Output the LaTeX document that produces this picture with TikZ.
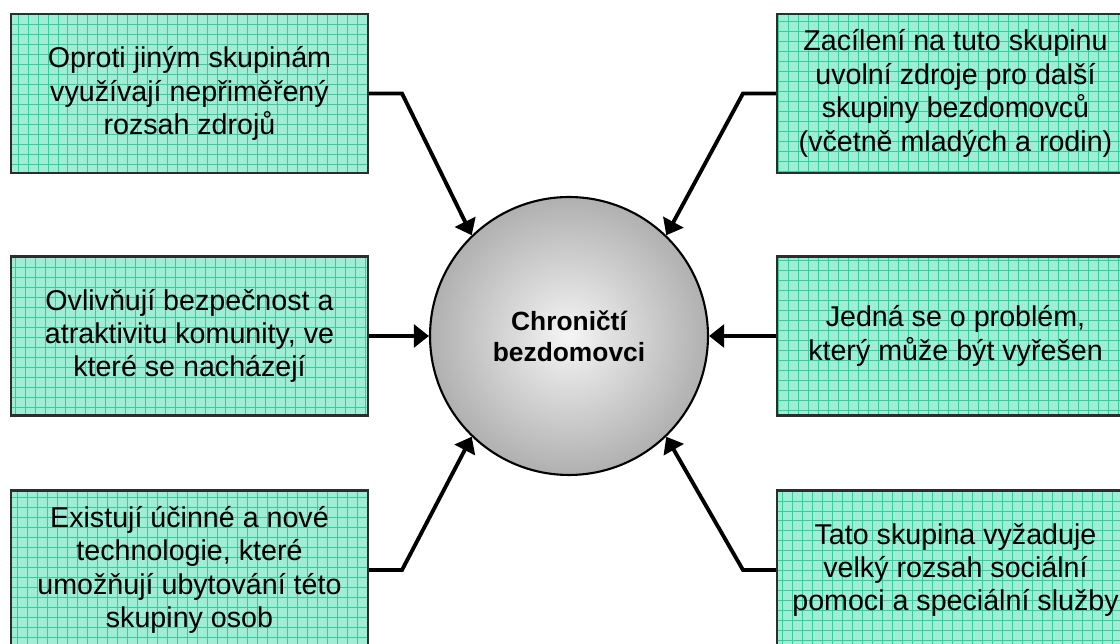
\documentclass[tikz,border=0pt]{standalone}
\usepackage{fontspec}
\setmainfont{Liberation Sans}
\usetikzlibrary{arrows.meta}
\definecolor{boxfill}{RGB}{160,236,212}
\definecolor{boxgrid}{RGB}{50,206,156}
\definecolor{boxline}{RGB}{45,45,45}
\tikzset{
  reason/.style={draw=boxline, line width=1.2pt, fill=boxfill,
    minimum width=7.14cm, minimum height=3.18cm, inner sep=0pt,
    align=center, font=\fontsize{16.3}{19}\selectfont,
    path picture={\draw[boxgrid, line width=0.4pt, step=0.2cm]
      (path picture bounding box.south west) grid (path picture bounding box.north east);}},
  hubnode/.style={circle, draw=black, line width=1.2pt, minimum size=5.56cm,
    inner color=gray!8, outer color=gray!62, align=center,
    font=\fontsize{15}{17.5}\selectfont\bfseries},
  link/.style={line width=2.2pt, -{Triangle[length=0.3cm, width=0.45cm]}}
}
\begin{document}
\begin{tikzpicture}[x=0.02cm, y=-0.02cm]
        \useasboundingbox (0, 0) rectangle (1120, 644);
        \clip (0, 0) rectangle (1120, 644);
        \node[hubnode] (hub) at (569, 336) {Chroničtí\\bezdomovci};
        \node[reason] (tl) at (189.5, 93.5) {Oproti jiným skupinám\\využívají nepřiměřený\\rozsah zdrojů};
        \node[reason] (ml) at (189.5, 336) {Ovlivňují bezpečnost a\\atraktivitu komunity, ve\\které se nacházejí};
        \node[reason] (bl) at (189.5, 570) {Existují účinné a nové\\technologie, které\\umožňují ubytování této\\skupiny osob};
        \node[reason] (tr) at (955.5, 93.5) {Zacílení na tuto skupinu\\uvolní zdroje pro další\\skupiny bezdomovců\\(včetně mladých a rodin)};
        \node[reason] (mr) at (955.5, 336) {Jedná se o problém,\\který může být vyřešen};
        \node[reason] (br) at (955.5, 570) {Tato skupina vyžaduje\\velký rozsah sociální\\pomoci a speciální služby};
        \draw [link] (tl.east) -- ++(33, 0) -- (hub.134);
        \draw [link] (ml.east) -- (hub.west);
        \draw [link] (bl.east) -- ++(33, 0) -- (hub.-134);
        \draw [link] (tr.west) -- ++(-33, 0) -- (hub.46);
        \draw [link] (mr.west) -- (hub.east);
        \draw [link] (br.west) -- ++(-33, 0) -- (hub.-46);
    \end{tikzpicture}
\end{document}
